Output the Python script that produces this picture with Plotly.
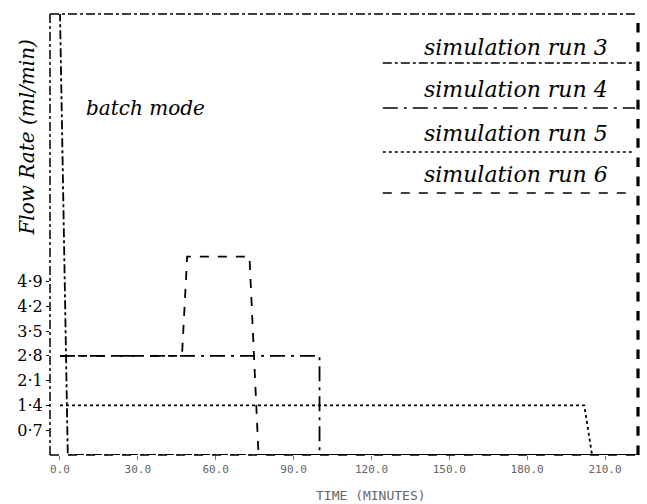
import plotly.graph_objects as go

# ---- data ----
time_ticks = [0, 30, 60, 90, 120, 150, 180, 210]
time_tick_labels = ["0.0", "30.0", "60.0", "90.0", "120.0", "150.0", "180.0", "210.0"]
flow_ticks = [0.7, 1.4, 2.1, 2.8, 3.5, 4.2, 4.9]
flow_tick_labels = ["0·7", "1·4", "2·1", "2·8", "3·5", "4·2", "4·9"]

run3_time = [0, 3, 222]
run3_flow = [12.5, 0, 0]
run4_time = [0, 100, 100, 222]
run4_flow = [2.8, 2.8, 0, 0]
run5_time = [0, 202, 205, 222]
run5_flow = [1.4, 1.4, 0, 0]
run6_time = [0, 47, 49, 73, 76.5, 222]
run6_flow = [2.8, 2.8, 5.6, 5.6, 0, 0]

run_names = ["simulation run 3", "simulation run 4", "simulation run 5", "simulation run 6"]
run_dashes = ["dashdot", "longdashdot", "dot", "dash"]

HAND = "DejaVu Serif"

fig = go.Figure()
for t, q, name, dash in [
    (run3_time, run3_flow, run_names[0], run_dashes[0]),
    (run4_time, run4_flow, run_names[1], run_dashes[1]),
    (run5_time, run5_flow, run_names[2], run_dashes[2]),
    (run6_time, run6_flow, run_names[3], run_dashes[3]),
]:
    fig.add_trace(go.Scatter(x=t, y=q, mode="lines", name=name,
                             line=dict(color="black", width=1.8, dash=dash),
                             showlegend=False))

shapes = [
    # frame
    dict(type="line", xref="paper", yref="paper", x0=0, x1=0, y0=0, y1=1,
         line=dict(color="black", width=1.5, dash="dashdot")),
    dict(type="line", xref="paper", yref="paper", x0=0, x1=1, y0=1, y1=1,
         line=dict(color="black", width=1.5, dash="dashdot")),
    dict(type="line", xref="paper", yref="paper", x0=1, x1=1, y0=0, y1=1,
         line=dict(color="black", width=3.2, dash="dash")),
    dict(type="line", xref="paper", yref="paper", x0=0, x1=1, y0=0, y1=0,
         line=dict(color="black", width=1.5, dash="dash")),
]
annotations = []
leg_line_y = [0.889, 0.787, 0.687, 0.594]
leg_text_y = [0.925, 0.828, 0.730, 0.635]
for name, dash, ly, ty in zip(run_names, run_dashes, leg_line_y, leg_text_y):
    shapes.append(dict(type="line", xref="paper", yref="paper", x0=0.566, x1=0.995,
                       y0=ly, y1=ly, line=dict(color="black", width=1.5, dash=dash)))
    annotations.append(dict(text="<i>" + name + "</i>", xref="paper", yref="paper",
                            x=0.792, y=ty, xanchor="center", yanchor="middle",
                            showarrow=False,
                            font=dict(family=HAND, size=22, color="black")))

annotations.append(dict(text="<i>batch mode</i>", xref="paper", yref="paper",
                        x=0.163, y=0.787, xanchor="center", yanchor="middle",
                        showarrow=False,
                        font=dict(family=HAND, size=20, color="black")))
annotations.append(dict(text="<i>Flow Rate (ml/min)</i>", xref="paper", yref="paper",
                        x=-0.039, y=0.72, xanchor="center", yanchor="middle",
                        textangle=-90, showarrow=False,
                        font=dict(family=HAND, size=20, color="black")))
annotations.append(dict(text="TIME (MINUTES)", xref="x", yref="paper",
                        x=120, y=-0.07, xanchor="center", yanchor="top",
                        showarrow=False,
                        font=dict(family="DejaVu Sans Mono", size=13, color="#666666")))

fig.update_layout(
    width=647, height=504,
    margin=dict(l=50, r=9, t=14, b=49),
    paper_bgcolor="white", plot_bgcolor="white",
    shapes=shapes, annotations=annotations,
    xaxis=dict(range=[-3.85, 222.7], tickvals=time_ticks, ticktext=time_tick_labels,
               showgrid=False, zeroline=False, showline=False,
               ticks="outside", ticklen=4, tickcolor="#777",
               tickfont=dict(family="DejaVu Sans Mono", size=11, color="#666666")),
    yaxis=dict(range=[0, 12.45], tickvals=flow_ticks, ticktext=flow_tick_labels,
               showgrid=False, zeroline=False, showline=False,
               ticks="outside", ticklen=3, tickcolor="black",
               tickfont=dict(family=HAND, size=16, color="black")),
)

fig.write_html("out.html")
